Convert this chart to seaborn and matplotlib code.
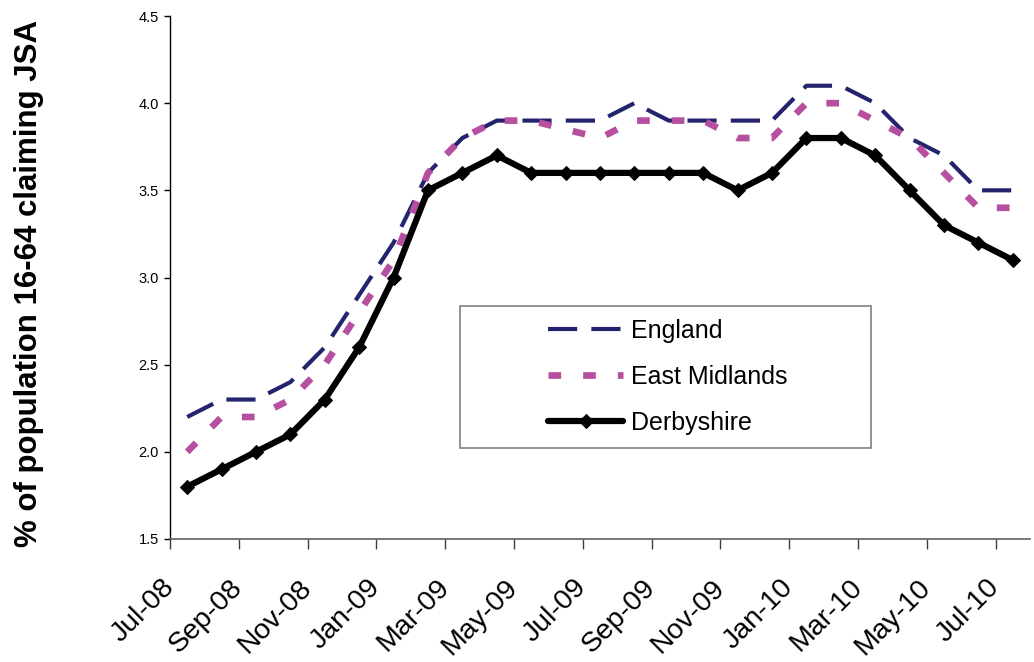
import numpy as np
import pandas as pd
import matplotlib
matplotlib.use("Agg")
import matplotlib.pyplot as plt
import matplotlib.transforms as mtransforms
from matplotlib.patches import Rectangle
import seaborn as sns

months = ["Jul-08", "Aug-08", "Sep-08", "Oct-08", "Nov-08", "Dec-08",
          "Jan-09", "Feb-09", "Mar-09", "Apr-09", "May-09", "Jun-09",
          "Jul-09", "Aug-09", "Sep-09", "Oct-09", "Nov-09", "Dec-09",
          "Jan-10", "Feb-10", "Mar-10", "Apr-10", "May-10", "Jun-10", "Jul-10"]

england = [2.2, 2.3, 2.3, 2.4, 2.6, 2.9, 3.2, 3.6, 3.8, 3.9, 3.9, 3.9,
           3.9, 4.0, 3.9, 3.9, 3.9, 3.9, 4.1, 4.1, 4.0, 3.8, 3.7, 3.5, 3.5]
east_midlands = [2.0, 2.2, 2.2, 2.3, 2.5, 2.8, 3.1, 3.6, 3.8, 3.9, 3.9, 3.85,
                 3.8, 3.9, 3.9, 3.9, 3.8, 3.8, 4.0, 4.0, 3.9, 3.8, 3.6, 3.4, 3.4]
derbyshire = [1.8, 1.9, 2.0, 2.1, 2.3, 2.6, 3.0, 3.5, 3.6, 3.7, 3.6, 3.6,
              3.6, 3.6, 3.6, 3.6, 3.5, 3.6, 3.8, 3.8, 3.7, 3.5, 3.3, 3.2, 3.1]

series_names = ["England", "East Midlands", "Derbyshire"]
y_ticks = [1.5, 2.0, 2.5, 3.0, 3.5, 4.0, 4.5]

idx = np.arange(len(months))
df = pd.DataFrame({"idx": idx, "England": england,
                   "East Midlands": east_midlands, "Derbyshire": derbyshire})

sns.set_style("white")
plt.rcParams["font.family"] = ["Liberation Sans", "DejaVu Sans"]
plt.rcParams["text.color"] = "black"
plt.rcParams["axes.labelcolor"] = "black"
plt.rcParams["xtick.color"] = "black"
plt.rcParams["ytick.color"] = "black"

fig = plt.figure(figsize=(10.34, 6.62), dpi=100)
ax = fig.add_axes([170 / 1034, 1 - 539 / 662, 860 / 1034, 523 / 662])

sns.lineplot(data=df, x="idx", y="England", ax=ax, color="#24246E",
             linewidth=3.0, linestyle=(0, (7.0, 3.4)), dash_capstyle="butt",
             label="England", legend=False)
sns.lineplot(data=df, x="idx", y="East Midlands", ax=ax, color="#B64FA0",
             linewidth=4.8, linestyle=(0, (1.9, 3.3)), dash_capstyle="butt",
             label="East Midlands", legend=False)
sns.lineplot(data=df, x="idx", y="Derbyshire", ax=ax, color="black",
             linewidth=4.5, marker="D", markersize=7.5, markeredgecolor="black",
             markerfacecolor="black", label="Derbyshire", legend=False)

ax.set_xlim(-0.5, len(months) - 0.5)
ax.set_ylim(y_ticks[0], y_ticks[-1])
ax.set_yticks(y_ticks)
ax.set_yticklabels([f"{v:.1f}" for v in y_ticks], fontsize=10.5)

tick_pos = idx[::2] - 0.5
ax.set_xticks(tick_pos)
ax.set_xticklabels(months[::2], fontsize=20.5, rotation=45, ha="right",
                   va="center", rotation_mode="anchor")
offset = mtransforms.ScaledTranslation(-6 / 100, 0, fig.dpi_scale_trans)
for lab in ax.get_xticklabels():
    lab.set_transform(lab.get_transform() + offset)

ax.tick_params(axis="x", direction="out", length=7, width=1, pad=25,
               color="#404040", bottom=True)
ax.tick_params(axis="y", direction="out", length=4, width=1, pad=4,
               color="black", left=True)

for s in ["top", "right"]:
    ax.spines[s].set_visible(False)
ax.spines["left"].set_color("black")
ax.spines["left"].set_linewidth(1)
ax.spines["bottom"].set_color("#606060")
ax.spines["bottom"].set_linewidth(1.2)

ax.set_xlabel("")
ax.set_ylabel("% of population 16-64 claiming JSA", fontsize=22.5,
              fontweight="bold")
ax.yaxis.set_label_coords(-0.146, 0.489)

# legend box
ax.add_patch(Rectangle((0.337, 0.174), 0.478, 0.2715, transform=ax.transAxes,
                       facecolor="white", edgecolor="#808080", linewidth=1.2,
                       zorder=4))
handles = ax.get_lines()[:3]
leg = ax.legend(handles, series_names, loc="center",
                bbox_to_anchor=(0.579, 0.31), frameon=False, fontsize=18,
                handlelength=3.0, handletextpad=0.3, labelspacing=0.88)
leg.set_zorder(5)

fig.savefig("out.png", dpi=100, facecolor="white")
